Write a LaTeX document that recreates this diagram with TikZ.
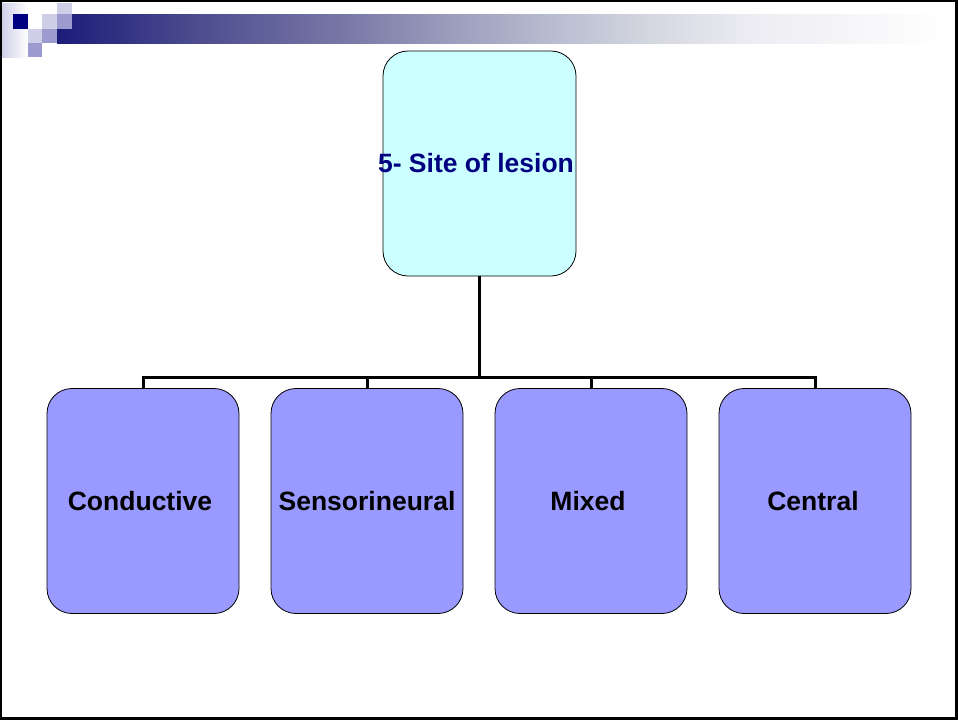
\documentclass[tikz,border=0pt]{standalone}
\usepackage{fontspec}
\setmainfont{Liberation Sans}
\definecolor{navysq}{RGB}{0,0,128}
\definecolor{lightsq}{RGB}{207,208,232}
\definecolor{midsq}{RGB}{155,155,207}
\definecolor{barA}{RGB}{28,28,122}
\definecolor{barB}{RGB}{77,77,143}
\definecolor{barC}{RGB}{122,122,168}
\definecolor{barD}{RGB}{156,156,188}
\definecolor{barE}{RGB}{184,188,208}
\definecolor{barF}{RGB}{212,214,224}
\definecolor{barG}{RGB}{236,236,242}
\definecolor{topfill}{RGB}{204,255,255}
\definecolor{leaffill}{RGB}{153,153,255}
\definecolor{titlenavy}{RGB}{0,0,128}
% title bar: dark navy fading to white (stops 25bp..75bp span the path)
\pgfdeclarehorizontalshading{titlebar}{100bp}{%
  color(0bp)=(barA); color(25bp)=(barA); color(33bp)=(barB);
  color(41.5bp)=(barC); color(47.1bp)=(barD); color(52.8bp)=(barE);
  color(58.4bp)=(barF); color(64bp)=(barG); color(75bp)=(white);
  color(100bp)=(white)}
% box label of zero width, nudged left by twice #1 / 2
\newcommand{\boxlabel}[2][0pt]{\makebox[0pt][c]{#2\hspace*{#1}}}
\begin{document}
\begin{tikzpicture}[x=1pt,y=-1pt,
  box/.style={draw=black, line width=0.8pt, rounded corners=25pt,
    minimum width=192pt, minimum height=225pt, inner sep=0pt,
    font=\fontsize{26.5}{30}\selectfont\bfseries},
  topbox/.style={box, fill=topfill, text=titlenavy, minimum width=193pt},
  leaf/.style={box, fill=leaffill, text=black},
  link/.style={draw=black, line width=3pt, line join=miter}]
\useasboundingbox (0,0) rectangle (958,720);
\fill[white] (0,0) rectangle (958,720);

% header decoration
\shade[left color=lightsq, right color=white] (2,3) rectangle (28,57);
\shade[shading=titlebar] (57,14) rectangle (945,43);
\fill[navysq] (13,14) rectangle (28,29);
\fill[white] (28,14) rectangle (42,29);
\fill[lightsq] (57,3) rectangle (72,14);
\fill[lightsq] (42,14) rectangle (57,29);
\fill[midsq] (57,14) rectangle (72,29);
\fill[lightsq] (28,29) rectangle (42,43);
\fill[midsq] (42,29) rectangle (57,43);
\fill[midsq] (28,43) rectangle (42,57);

% hierarchy
\node[topbox] (site) at (479.5,163.5) {\boxlabel[7pt]{5- Site of lesion}};
\node[leaf] (cond) at (143,501) {\boxlabel[6pt]{Conductive}};
\node[leaf] (sens) at (367,501) {\boxlabel{Sensorineural}};
\node[leaf] (mix) at (591,501) {\boxlabel[6pt]{Mixed}};
\node[leaf] (cent) at (815,501) {\boxlabel[4pt]{Central}};

\coordinate (bus) at (479.5,377.5);
\draw[link] (site.south) -- (bus);
\draw[link] (cond.north) -- (cond.north |- bus) -- (cent.north |- bus) -- (cent.north);
\draw[link] (sens.north) -- (sens.north |- bus);
\draw[link] (mix.north) -- (mix.north |- bus);

% slide frame
\draw[black, line width=2.4pt] (1.2,1.2) rectangle (956.6,718.6);
\end{tikzpicture}
\end{document}
